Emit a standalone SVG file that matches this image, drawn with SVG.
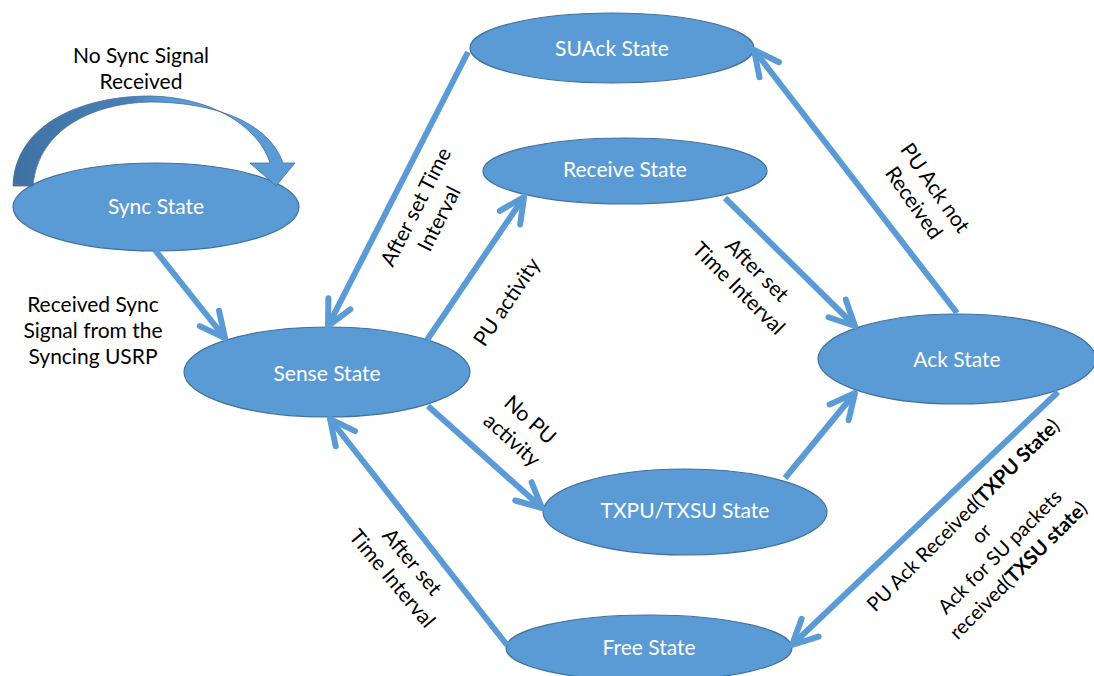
<svg xmlns="http://www.w3.org/2000/svg" width="1094" height="676" viewBox="0 0 1094 676">
<defs>
<style>
.node{fill:#5b9bd5;stroke:#41719c;stroke-width:1.2}
.nt{font-family:Lato,"Liberation Sans",sans-serif;font-size:21px;fill:#ffffff;text-anchor:middle}
.lb{font-family:Lato,"Liberation Sans",sans-serif;font-size:21px;fill:#000000;text-anchor:middle}
.sm{font-size:20px}
.cn{stroke:#5b9bd5;stroke-width:6;fill:none;stroke-linecap:butt}
.b{font-weight:bold}
</style>
<marker id="ah" markerUnits="userSpaceOnUse" markerWidth="40" markerHeight="40" viewBox="-35 -20 40 40" refX="0" refY="0" orient="auto" overflow="visible">
<path d="M-25,-12.3 L0,0 L-25,12.3" fill="none" stroke="#5b9bd5" stroke-width="6" stroke-linecap="round" stroke-linejoin="round"/>
</marker>
<linearGradient id="loopg" gradientUnits="userSpaceOnUse" x1="13" y1="0" x2="295" y2="0">
<stop offset="0" stop-color="#3f72a3"/>
<stop offset="0.42" stop-color="#4a80b7"/>
<stop offset="0.55" stop-color="#5b9bd5"/>
<stop offset="1" stop-color="#5b9bd5"/>
</linearGradient>
</defs>
<rect width="1094" height="676" fill="#ffffff"/>

<g id="sync">
<ellipse class="node" cx="156" cy="207" rx="143" ry="44"/>
<text class="nt" x="156" y="214">Sync State</text>
</g>
<g id="suack">
<ellipse class="node" cx="612" cy="48" rx="142" ry="35"/>
<text class="nt" x="612" y="56">SUAck State</text>
</g>
<g id="receive">
<ellipse class="node" cx="625" cy="171" rx="142" ry="33"/>
<text class="nt" x="625" y="177">Receive State</text>
</g>
<g id="sense">
<ellipse class="node" cx="327" cy="372" rx="143" ry="45"/>
<text class="nt" x="327" y="381">Sense State</text>
</g>
<g id="ack">
<ellipse class="node" cx="957" cy="359" rx="139" ry="45"/>
<text class="nt" x="957" y="367">Ack State</text>
</g>
<g id="txpu">
<ellipse class="node" cx="685" cy="512" rx="142" ry="43"/>
<text class="nt" x="685" y="518">TXPU/TXSU State</text>
</g>
<g id="free">
<ellipse class="node" cx="649" cy="648" rx="143" ry="33"/>
<text class="nt" x="649" y="655">Free State</text>
</g>

<g id="selfloop">
<path d="M13,186 C15,125 80,96 150,96 C210,97 258,125 270,163 L250,163 L276,186 L295,163 L283,163 C268,120 210,102 150,102 C95,103 38,128 33,186 Z" fill="url(#loopg)" stroke="#41719c" stroke-width="0.8"/>
</g>

<g id="connectors">
<line class="cn" x1="155" y1="250" x2="225" y2="338" marker-end="url(#ah)"/>
<line class="cn" x1="468" y1="52" x2="328" y2="326" marker-end="url(#ah)"/>
<line class="cn" x1="427" y1="340" x2="524" y2="197" marker-end="url(#ah)"/>
<line class="cn" x1="725" y1="198" x2="855" y2="326" marker-end="url(#ah)"/>
<line class="cn" x1="957" y1="313" x2="754" y2="50" marker-end="url(#ah)"/>
<line class="cn" x1="428" y1="406" x2="542" y2="508" marker-end="url(#ah)"/>
<line class="cn" x1="785" y1="478" x2="855" y2="393" marker-end="url(#ah)"/>
<line class="cn" x1="1058" y1="392" x2="792" y2="645" marker-end="url(#ah)"/>
<line class="cn" x1="507" y1="645" x2="330" y2="419" marker-end="url(#ah)"/>
</g>

<g id="labels">
<text class="lb" x="141" y="63">No Sync Signal</text>
<text class="lb" x="141" y="89">Received</text>
<text class="lb" x="93" y="312">Received Sync</text>
<text class="lb" x="93" y="338">Signal from the</text>
<text class="lb" x="93" y="364">Syncing USRP</text>

<text class="lb" transform="translate(416,207) rotate(-63)"><tspan x="0" y="7">After set Time</tspan><tspan x="0" y="33">Interval</tspan></text>
<text class="lb" transform="translate(507,302) rotate(-56)"><tspan x="0" y="7">PU activity</tspan></text>
<text class="lb" transform="translate(757,270) rotate(45)"><tspan x="0" y="7">After set</tspan><tspan x="0" y="33">Time Interval</tspan></text>
<text class="lb" transform="translate(935,188) rotate(55)"><tspan x="0" y="7">PU Ack not</tspan><tspan x="0" y="33">Received</tspan></text>
<text class="lb" transform="translate(530,420) rotate(42)"><tspan x="0" y="7">No PU</tspan><tspan x="0" y="34">activity</tspan></text>
<text class="lb" transform="translate(412,562) rotate(50)"><tspan x="0" y="7">After set</tspan><tspan x="0" y="33">Time Interval</tspan></text>
<text class="lb sm" transform="translate(963,515) rotate(-45)"><tspan x="0" y="7">PU Ack Received(<tspan class="b">TXPU State</tspan>)</tspan><tspan x="0" y="33">or</tspan><tspan x="0" y="59">Ack for SU packets</tspan><tspan x="0" y="85">received(<tspan class="b">TXSU state</tspan>)</tspan></text>
</g>
</svg>
